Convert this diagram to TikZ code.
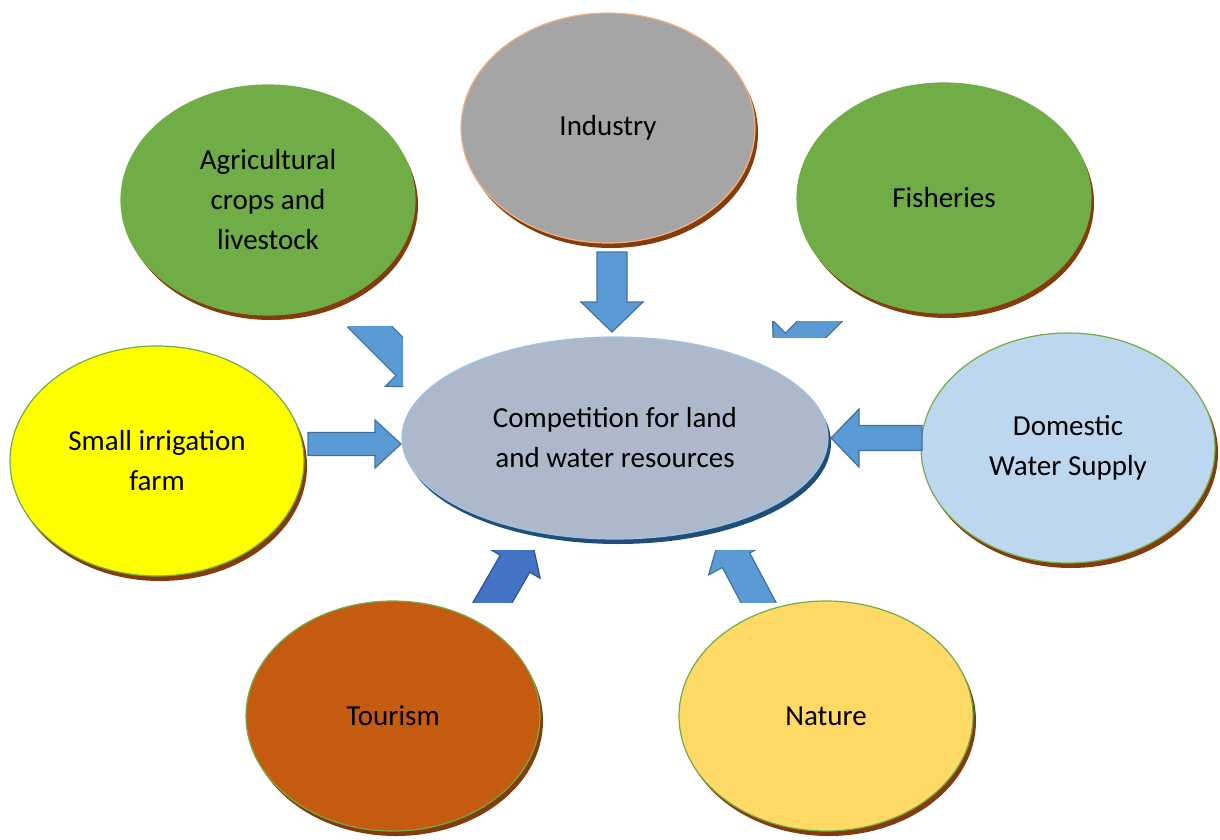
\documentclass[tikz,border=0pt]{standalone}
\usepackage{fontspec}
\setmainfont{Carlito}
\usetikzlibrary{shapes.geometric,shadows}
\definecolor{leafgreen}{HTML}{70AD47}
\definecolor{rustshadow}{HTML}{843C0C}
\definecolor{steelgray}{HTML}{A5A5A5}
\definecolor{peachedge}{HTML}{F4B183}
\definecolor{lemon}{HTML}{FFFF00}
\definecolor{skyfill}{HTML}{BDD7EE}
\definecolor{burnt}{HTML}{C55A11}
\definecolor{sand}{HTML}{FFD966}
\definecolor{hubfill}{HTML}{ADB9CA}
\definecolor{hubedge}{HTML}{9DC3E6}
\definecolor{hubshadow}{HTML}{1F4E79}
\definecolor{arrowblue}{HTML}{5B9BD5}
\definecolor{arrowedge}{HTML}{41719C}
\definecolor{deepblue}{HTML}{4472C4}
\definecolor{deepedge}{HTML}{2F528F}
\begin{document}
\begin{tikzpicture}[x=1pt,y=-1pt,
	bubble/.style={ellipse,draw=leafgreen,line width=1.2pt,minimum width=294pt,minimum height=230pt,
		inner sep=0pt,align=center,font=\fontsize{29}{40}\selectfont,
		drop shadow={shadow xshift=3pt,shadow yshift=-5pt,fill=#1,opacity=1}},
	bubble/.default=rustshadow,
	blockarrow/.style={line width=1.2pt,line join=miter}]
	\useasboundingbox (0,0) rectangle (1220,840);
	% outer circles
	\node[bubble,fill=leafgreen] (agri) at (268,200) {Agricultural\\crops and\\livestock};
	\node[bubble,fill=steelgray,draw=peachedge] (industry) at (608,128) {Industry};
	\node[bubble,fill=leafgreen] (fish) at (944,198) {Fisheries};
	\node[bubble,fill=lemon] (farm) at (157,461) {Small irrigation\\farm};
	\node[bubble,fill=skyfill] (domestic) at (1068,448) {Domestic\\Water Supply};
	\node[bubble,fill=burnt] (tourism) at (393,716) {Tourism};
	\node[bubble,fill=sand] (nature) at (826,716) {Nature};
	% centre
	\node[bubble=hubshadow,fill=hubfill,draw=hubedge,minimum width=426pt,minimum height=202pt] (comp) at (615,438) {Competition for land\\and water resources};
	% block arrows: tip, angle, length, shaft, head, head length, clip box, colours
	\foreach \tx/\ty/\ang/\len/\sw/\hw/\hl/\xa/\ya/\xb/\yb/\col/\edge in {
		612/332/-90/80/15/31/30/0/0/1220/840/arrowblue/arrowedge,
		401/444/0/93/11.5/24/26/0/0/1220/840/arrowblue/arrowedge,
		831/438/180/91/12.5/29/28/0/0/1220/840/arrowblue/arrowedge,
		430/387/-45/100/16/31/32/0/326/403/840/arrowblue/arrowedge,
		774/367/-135/100/16/34/32/0/321/1220/337/arrowblue/arrowedge,
		531/536/60/100/17/29/32/0/550/1220/602/deepblue/deepedge,
		721/532/118/100/15.5/31/32/0/550/1220/602/arrowblue/arrowedge} {
		\begin{scope}
			\clip (\xa,\ya) rectangle (\xb,\yb);
			\begin{scope}[shift={(\tx,\ty)},rotate=\ang]
				\draw[blockarrow,fill=\col,draw=\edge] (0,0) -- (-\hl,\hw) -- (-\hl,\sw) -- (-\len,\sw)
					-- (-\len,-\sw) -- (-\hl,-\sw) -- (-\hl,-\hw) -- cycle;
			\end{scope}
		\end{scope}
	}
\end{tikzpicture}
\end{document}
